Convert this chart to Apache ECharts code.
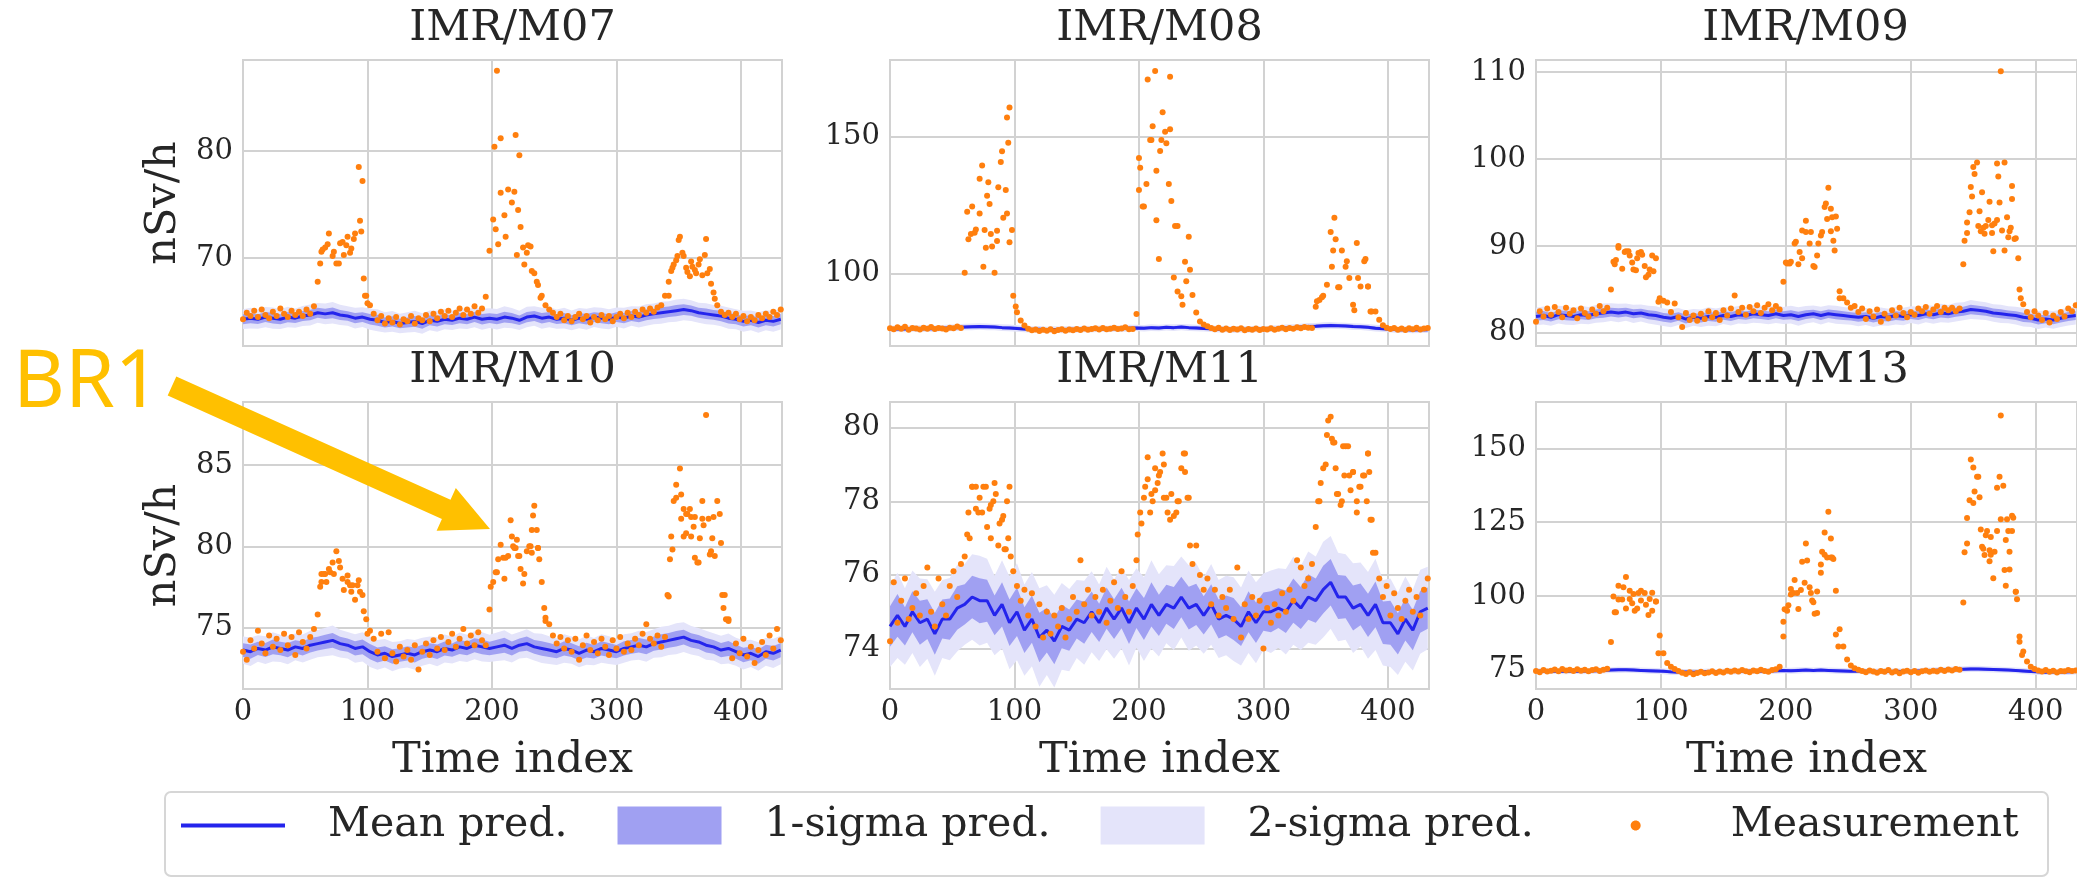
<!DOCTYPE html>
<html lang="en">
<head>
<meta charset="UTF-8">
<title>IMR monitors: prediction vs measurement</title>
<script src="https://cdn.jsdelivr.net/npm/echarts@6.0.0/dist/echarts.min.js"></script>
<style>
  html, body { margin: 0; padding: 0; background: #fff; }
  #main { width: 2077px; height: 878px; }
</style>
</head>
<body>
<div id="main"></div>
<script>
// ---- data ----
// measurements are sampled every 3 time indices, predictions every 6;
// the *Extra arrays hold further [time index, value] readings inside the peaks
var measStep = 3;
var predStep = 6;
var xMax = 433;

var panelTitles = ['IMR/M07', 'IMR/M08', 'IMR/M09', 'IMR/M10', 'IMR/M11', 'IMR/M13'];
var yRanges = [[61.8, 88.5], [73.7, 178], [78.5, 111.4], [71.2, 88.9], [72.9, 80.7], [68.5, 165.7]];
var yTicks = [[70, 80], [100, 150], [80, 90, 100, 110], [75, 80, 85], [74, 76, 78, 80], [75, 100, 125, 150]];
var xTicks = [0, 100, 200, 300, 400];

// IMR/M07
var m07Meas = [
  64.3,64.9,64.6,65.1,64.5,65.2,64.7,64.4,65.0,64.6,
  65.3,64.8,64.5,65.1,64.7,65.0,64.6,65.2,64.8,65.5,
  67.8,70.6,71.0,72.3,70.2,69.5,71.4,70.3,72.0,70.9,
  72.3,78.5,77.2,66.5,65.6,64.8,64.2,64.6,63.9,64.4,
  64.0,64.5,63.8,64.3,64.1,64.6,63.9,64.4,64.2,64.7,
  64.1,64.8,64.4,65.0,64.6,65.1,64.5,64.9,65.3,64.7,
  65.2,64.8,65.5,64.9,65.3,66.4,70.7,73.6,87.5,81.2,
  74.0,76.4,75.2,81.5,79.6,71.0,70.5,71.1,68.6,67.5,
  66.5,65.6,65.2,64.9,64.5,64.8,64.2,64.6,64.1,64.5,
  64.8,64.3,64.6,64.0,64.5,64.2,64.7,64.3,64.6,64.1,
  64.5,64.8,64.4,64.9,64.5,65.0,64.7,65.2,64.9,65.3,
  65.0,65.4,65.6,66.5,67.8,69.1,69.8,72.0,70.2,68.7,
  69.7,68.9,69.4,68.4,71.8,69.0,66.8,65.6,65.0,64.7,
  64.9,64.5,64.8,64.3,64.6,64.1,64.5,64.2,64.7,64.4,
  64.8,64.5,65.0,64.7,65.2
];
var m07Extra = [
  [62,69.5],[64,70.8],[68,71.3],[73,70.6],[77,69.5],[80,71.5],[83,71.2],[86,70.5],[89,71.8],
  [94,73.5],[95,72.5],[97,68.1],[98,66.5],[100,65.8],
  [202,80.4],[203,72.7],[205,71.3],[207,76.1],[211,72.0],[218,76.2],[220,70.3],[221,74.5],
  [223,72.9],[226,69.4],[229,71.2],[232,68.8],[236,67.8],[239,66.3],
  [342,66.5],[344,68.8],[346,69.4],[349,70.2],[350,71.7],[353,70.5],[356,69.1],[359,68.3],
  [361,69.2],[364,68.6],[367,69.9],[371,70.3],[373,68.6],[376,67.6],[379,66.2]
];
var m07Mean = [
  64.3,64.4,64.3,64.5,64.4,64.3,64.5,64.4,64.6,64.7,
  64.9,64.8,64.9,64.7,64.6,64.4,64.5,64.3,64.2,64.0,
  64.1,63.9,64.0,64.1,63.9,64.2,64.1,64.3,64.2,64.4,
  64.3,64.5,64.3,64.4,64.3,64.5,64.4,64.2,64.5,64.6,
  64.4,64.5,64.3,64.4,64.2,64.4,64.3,64.5,64.4,64.3,
  64.5,64.4,64.6,64.5,64.7,64.8,64.9,65.0,65.1,65.2,
  65.1,64.9,64.8,64.7,64.6,64.4,64.3,64.1,64.2,64.0,
  64.2,64.1,64.3
];
var m07Sigma = [
  0.46,0.48,0.45,0.47,0.50,0.46,0.48,0.45,0.47,0.49,
  0.46,0.48,0.50,0.47,0.45,0.48,0.46,0.49,0.51,0.47,
  0.48,0.45,0.47,0.50,0.48,0.46,0.49,0.47,0.45,0.48,
  0.46,0.47,0.49,0.46,0.48,0.50,0.47,0.45,0.48,0.46,
  0.49,0.47,0.45,0.48,0.46,0.47,0.49,0.46,0.48,0.47,
  0.45,0.48,0.46,0.49,0.50,0.48,0.51,0.49,0.52,0.50,
  0.48,0.47,0.49,0.46,0.48,0.50,0.47,0.49,0.46,0.48,
  0.47,0.49,0.48
];

// IMR/M08
var m08Meas = [
  80.2,79.8,80.5,80.0,80.7,79.6,80.3,80.1,79.7,80.4,
  80.0,80.6,79.9,80.3,80.1,79.7,80.4,80.2,80.8,80.3,
  100.4,112.6,124.6,116.2,134.7,102.6,128.5,114.5,100.4,131.6,
  144.7,130.6,160.7,92.0,86.0,83.0,81.2,80.0,79.4,79.7,
  79.2,79.6,79.3,79.8,79.1,79.5,79.8,79.3,79.7,79.4,
  79.9,79.5,80.1,79.6,79.9,80.2,79.7,80.3,79.8,80.0,
  80.4,79.9,80.1,80.5,79.8,79.9,85.4,138.7,124.6,170.9,
  148.8,174.0,105.4,158.9,147.6,171.9,98.7,117.5,91.8,104.4,
  113.5,92.3,85.9,82.6,81.5,80.9,80.3,79.8,80.4,79.6,
  80.1,79.5,80.0,79.7,80.2,79.4,79.9,79.6,80.1,79.5,
  79.9,79.7,80.2,79.6,80.0,80.4,79.8,80.3,80.0,80.5,
  80.2,80.6,80.4,80.3,88.0,90.5,92.0,96.0,115.3,120.5,
  95.1,108.5,102.6,98.5,88.7,111.3,95.4,104.6,95.4,86.3,
  86.3,83.3,81.3,80.4,79.9,80.3,79.6,80.1,79.5,80.2,
  79.8,80.4,79.7,80.1,80.3
];
var m08Extra = [
  [62,122.7],[65,114.5],[68,115.0],[72,122.0],[74,139.5],[76,116.0],[77,109.5],[79,133.4],
  [80,125.5],[82,110.0],[86,112.0],[86,115.7],[89,140.8],[91,120.5],[94,157.0],[94,122.0],
  [95,147.8],[96,111.5],[98,116.0],[101,88.1],
  [200,130.6],[200,142.3],[203,124.6],[206,132.8],[209,148.8],[211,153.8],[214,137.6],[214,119.6],
  [217,144.8],[218,148.8],[221,151.8],[224,132.8],[225,152.7],[226,126.6],[229,117.5],[231,93.6],
  [235,88.7],[238,97.3],[241,101.5],
  [343,90.0],[347,91.5],[355,102.6],[356,108.5],[358,112.6],[361,95.1],[367,104.6],[373,86.7],
  [376,98.5],[382,105.4],[384,95.4],[386,86.3]
];
var m08Mean = [
  79.9,80.0,79.9,80.1,80.0,80.1,80.0,80.2,80.3,80.4,
  80.6,80.7,80.8,80.7,80.6,80.4,80.3,80.1,79.9,79.7,
  79.8,79.6,79.7,79.6,79.8,79.7,79.9,79.8,80.0,79.9,
  80.1,80.0,80.2,80.3,80.2,80.4,80.3,80.5,80.4,80.6,
  80.4,80.3,80.1,80.0,79.8,79.9,79.7,79.8,79.7,79.9,
  79.8,80.0,80.1,80.3,80.4,80.6,80.8,80.9,81.1,81.2,
  81.1,81.0,80.8,80.7,80.5,80.2,80.0,79.8,79.6,79.7,
  79.5,79.7,79.6
];
var m08Sigma = [
  0.58,0.61,0.57,0.60,0.62,0.59,0.61,0.58,0.60,0.63,
  0.60,0.62,0.59,0.61,0.58,0.60,0.62,0.59,0.61,0.58,
  0.60,0.57,0.59,0.62,0.60,0.58,0.61,0.59,0.57,0.60,
  0.58,0.59,0.61,0.58,0.60,0.62,0.59,0.57,0.60,0.58,
  0.61,0.59,0.57,0.60,0.58,0.59,0.61,0.58,0.60,0.59,
  0.57,0.60,0.58,0.61,0.62,0.60,0.63,0.61,0.64,0.62,
  0.60,0.59,0.61,0.58,0.60,0.62,0.59,0.61,0.58,0.60,
  0.59,0.61,0.60
];

// IMR/M09
var m09Meas = [
  81.3,82.5,81.9,82.8,82.1,83.0,82.4,81.8,82.9,82.2,
  82.6,81.7,82.8,82.3,81.9,82.7,82.2,83.1,82.5,82.9,
  85.0,87.9,90.0,87.4,89.4,88.9,87.3,88.6,89.3,87.7,
  86.7,88.9,88.6,84.0,83.7,83.5,82.4,83.4,81.8,80.7,
  82.3,81.5,82.0,81.4,82.2,81.6,82.5,81.8,82.3,81.5,
  82.6,82.0,82.8,84.3,82.4,82.9,82.1,83.0,82.5,83.2,
  82.3,82.9,83.3,82.6,83.1,82.7,85.9,88.0,88.2,90.3,
  87.9,91.8,92.9,90.3,87.7,88.9,91.2,94.5,96.7,93.3,
  93.4,84.8,84.0,83.5,82.9,83.1,82.4,82.8,81.6,82.5,
  81.9,82.7,81.3,82.2,81.7,82.6,82.0,82.9,82.3,81.8,
  82.4,82.1,82.8,82.5,83.0,82.2,82.7,83.1,82.4,82.9,
  82.6,82.9,82.5,82.8,87.9,91.5,96.8,98.3,92.3,96.2,
  92.3,95.1,89.4,99.5,110.1,99.6,91.0,95.4,90.9,85.0,
  83.3,82.4,81.8,82.5,82.0,81.5,82.3,81.2,82.0,81.6,
  82.4,81.9,82.8,82.5,83.2
];
var m09Extra = [
  [62,88.2],[64,88.4],[66,89.8],[71,89.3],[74,89.4],[77,88.1],[80,87.2],[82,89.2],[85,89.0],
  [88,86.4],[91,87.3],[94,87.1],[98,83.6],
  [200,88.1],[203,88.0],[208,90.5],[211,89.3],[213,88.6],[216,91.6],[220,91.6],[223,87.6],
  [226,90.3],[229,91.6],[232,94.9],[233,93.1],[236,94.3],[236,91.7],[238,90.6],[239,89.5],
  [241,92.0],[243,84.0],
  [343,90.6],[345,92.7],[347,93.9],[349,95.7],[350,99.1],[353,99.6],[355,94.0],[356,91.7],
  [358,92.1],[359,91.4],[362,93.0],[365,92.4],[365,91.5],[367,92.6],[369,93.0],[370,98.0],
  [371,95.0],[373,91.8],[375,89.5],[377,93.3],[379,91.7],[380,92.1],[381,96.9],[383,90.8],
  [386,88.6],[388,84.0]
];
var m09Mean = [
  81.9,82.0,81.8,82.1,82.0,81.9,82.1,82.0,82.2,82.3,
  82.4,82.3,82.4,82.2,82.3,82.1,82.0,81.8,81.7,81.9,
  81.6,81.8,81.7,81.9,81.8,82.0,81.9,82.1,82.0,82.2,
  82.1,82.0,82.2,82.0,82.1,81.9,82.1,82.2,82.0,82.2,
  82.1,82.0,81.9,81.8,81.9,81.7,81.9,81.8,82.0,81.9,
  82.1,82.0,82.2,82.1,82.3,82.2,82.4,82.5,82.7,82.6,
  82.5,82.3,82.2,82.1,82.0,81.8,81.7,81.5,81.6,81.5,
  81.7,81.9,82.0
];
var m09Sigma = [
  0.50,0.52,0.48,0.51,0.53,0.49,0.52,0.50,0.51,0.54,
  0.51,0.53,0.50,0.52,0.49,0.51,0.53,0.50,0.52,0.49,
  0.51,0.48,0.50,0.53,0.51,0.49,0.52,0.50,0.48,0.51,
  0.49,0.50,0.52,0.49,0.51,0.53,0.50,0.48,0.51,0.49,
  0.52,0.50,0.48,0.51,0.49,0.50,0.52,0.49,0.51,0.50,
  0.48,0.51,0.49,0.52,0.53,0.51,0.54,0.52,0.55,0.53,
  0.51,0.50,0.52,0.49,0.51,0.53,0.50,0.52,0.49,0.51,
  0.50,0.52,0.51
];

// IMR/M10
var m10Meas = [
  73.5,73.0,74.2,73.7,74.8,74.0,73.4,74.5,73.8,74.3,
  73.6,74.6,73.9,74.4,73.3,74.7,74.1,73.7,74.4,74.9,
  75.8,77.8,78.3,78.6,79.0,79.7,78.7,77.3,78.2,77.2,
  76.7,77.9,77.0,75.5,74.8,74.3,73.5,74.6,73.1,74.7,
  73.4,72.9,73.8,73.2,73.6,73.0,73.9,72.4,73.5,74.0,
  73.3,74.2,73.7,74.4,73.6,74.1,74.6,73.8,74.3,74.9,
  74.0,74.5,73.9,74.7,74.2,73.9,76.1,77.8,78.4,80.1,
  78.0,79.4,80.6,79.9,79.4,77.7,79.7,80.0,82.5,79.9,
  77.8,75.4,75.2,74.5,74.0,74.4,73.7,74.2,73.5,74.3,
  73.0,73.9,74.5,73.6,74.1,73.4,74.3,73.8,73.3,74.2,
  73.7,74.4,73.5,74.0,73.6,74.3,73.9,74.6,75.2,74.3,
  74.0,74.5,73.8,74.4,76.9,79.8,83.8,84.8,80.6,82.0,
  80.6,81.8,79.0,82.8,88.1,79.5,81.8,82.8,80.2,77.0,
  75.5,73.1,74.0,73.4,74.3,73.2,73.8,72.8,73.6,74.1,
  73.3,74.5,73.7,74.9,74.2
];
var m10Extra = [
  [62,77.5],[63,78.3],[65,78.3],[67,77.8],[70,78.4],[73,78.3],[77,79.1],[80,78.0],[84,77.8],
  [86,77.6],[88,77.6],[92,77.6],[94,77.2],[97,76.0],[100,74.6],
  [199,77.5],[203,78.4],[205,79.2],[209,79.3],[211,79.3],[215,81.6],[217,80.0],[218,79.9],
  [220,80.4],[221,79.4],[223,78.6],[226,78.3],[230,80.0],[232,81.0],[232,79.6],[233,81.9],
  [236,81.0],[237,79.9],[238,79.2],[242,76.2],[243,75.6],
  [341,77.0],[343,79.2],[344,80.6],[346,82.8],[348,83.0],[352,83.2],[352,81.7],[354,82.3],
  [356,82.0],[356,80.8],[359,82.3],[360,81.8],[362,81.2],[363,79.3],[365,79.0],[367,80.5],
  [369,81.7],[370,81.3],[374,81.7],[376,79.7],[377,80.5],[379,79.4],[383,82.0],[385,77.0],
  [386,76.2],[388,75.5],[390,75.4]
];
var m10Mean = [
  73.6,73.5,73.7,73.6,73.8,73.7,73.6,73.8,73.7,73.9,
  74.0,74.1,74.2,74.0,73.9,73.7,73.8,73.5,73.3,73.4,
  73.2,73.3,73.4,73.3,73.5,73.6,73.5,73.7,73.6,73.8,
  73.7,73.9,73.8,73.7,73.8,73.9,73.7,73.9,74.0,73.8,
  73.7,73.6,73.5,73.7,73.6,73.4,73.6,73.5,73.7,73.6,
  73.5,73.7,73.8,73.9,73.8,74.0,74.1,74.2,74.3,74.4,
  74.2,74.1,73.9,73.8,73.6,73.7,73.5,73.3,73.4,73.2,
  73.5,73.4,73.6
];
var m10Sigma = [
  0.42,0.44,0.41,0.43,0.45,0.42,0.44,0.41,0.43,0.45,
  0.42,0.44,0.46,0.43,0.41,0.44,0.45,0.47,0.46,0.44,
  0.45,0.42,0.44,0.46,0.43,0.42,0.45,0.43,0.41,0.44,
  0.42,0.43,0.45,0.42,0.44,0.46,0.43,0.41,0.44,0.42,
  0.45,0.43,0.41,0.44,0.42,0.43,0.45,0.42,0.44,0.43,
  0.41,0.44,0.42,0.45,0.46,0.44,0.47,0.45,0.48,0.46,
  0.44,0.43,0.45,0.42,0.44,0.46,0.43,0.45,0.42,0.44,
  0.43,0.45,0.44
];

// IMR/M11
var m11Meas = [
  74.2,75.8,74.7,75.3,75.9,74.8,75.1,75.5,74.9,75.7,
  76.2,75.0,74.6,75.9,75.2,74.9,75.7,76.1,75.4,76.3,
  76.5,77.7,78.4,77.8,78.1,78.4,77.3,77.9,78.5,76.8,
  77.5,76.7,78.4,76.1,75.7,75.3,75.6,74.9,75.5,74.6,
  75.2,74.3,75.0,74.4,74.9,74.6,75.1,74.3,74.8,75.4,
  75.0,76.4,75.2,75.6,74.9,75.4,75.0,75.6,74.7,75.3,
  75.8,75.1,76.1,75.4,75.0,75.7,76.4,77.7,78.1,79.2,
  78.2,78.9,78.7,79.3,78.1,77.5,77.6,78.0,78.9,79.3,
  78.1,76.3,76.8,76.0,75.6,75.9,75.2,75.6,74.9,75.4,
  75.1,75.6,74.8,76.2,74.3,75.2,74.8,75.4,74.9,75.3,
  74.0,75.1,74.7,75.2,74.9,75.5,75.0,75.6,75.3,76.4,
  76.2,75.7,75.9,76.3,77.3,78.0,78.9,79.8,80.3,79.6,
  78.2,78.0,79.5,78.7,78.8,77.7,78.4,78.7,79.3,77.5,
  76.6,75.9,75.4,75.7,74.9,75.5,75.1,74.8,75.3,75.6,
  75.0,75.4,74.9,75.6,75.9
];
var m11Extra = [
  [62,77.1],[64,77.0],[66,78.4],[69,78.4],[71,77.7],[74,77.7],[77,78.4],[80,77.8],[81,77.0],
  [83,78.0],[85,78.2],[88,77.4],[91,77.6],[92,76.7],[94,78.0],[95,77.0],[97,76.5],
  [199,77.1],[202,77.4],[205,78.4],[207,78.6],[209,77.7],[211,78.0],[213,78.3],[215,78.5],
  [217,78.8],[220,79.0],[220,78.1],[223,77.7],[226,78.2],[230,77.7],[232,78.0],[236,79.3],
  [237,78.8],[239,78.1],[241,76.8],
  [344,78.0],[346,78.5],[350,79.0],[352,80.2],[355,79.7],[356,79.6],[358,78.9],[359,78.2],
  [362,77.9],[364,79.5],[365,78.7],[368,79.5],[370,78.3],[372,78.8],[375,78.0],[377,78.4],
  [380,78.7],[383,78.0],[384,79.3],[385,78.8],[386,77.5],[388,76.6]
];
var m11Mean = [
  74.6,74.9,74.6,75.0,74.7,74.8,74.4,74.8,74.8,75.1,
  75.2,75.4,75.3,75.3,74.9,75.2,74.7,75.0,74.5,74.8,
  74.3,74.5,74.2,74.6,74.5,74.8,74.7,75.0,74.7,75.1,
  74.8,75.1,74.7,75.1,74.8,75.2,74.9,75.2,75.1,75.4,
  75.1,75.2,74.9,75.2,74.8,74.9,74.8,74.6,75.0,74.7,
  75.0,75.0,75.1,75.0,75.3,75.1,75.4,75.3,75.6,75.8,
  75.4,75.4,75.1,75.2,74.9,75.2,74.7,74.7,74.4,74.8,
  74.5,75.0,75.1
];
var m11Sigma = [
  0.55,0.58,0.52,0.56,0.60,0.54,0.57,0.53,0.56,0.59,
  0.55,0.58,0.61,0.57,0.54,0.60,0.63,0.66,0.62,0.64,
  0.67,0.61,0.63,0.59,0.56,0.53,0.57,0.55,0.52,0.56,
  0.54,0.55,0.58,0.54,0.57,0.60,0.56,0.53,0.57,0.55,
  0.58,0.56,0.52,0.55,0.53,0.54,0.57,0.53,0.56,0.55,
  0.52,0.56,0.54,0.58,0.60,0.57,0.62,0.60,0.65,0.63,
  0.60,0.58,0.61,0.57,0.59,0.62,0.58,0.60,0.56,0.58,
  0.55,0.57,0.56
];

// IMR/M13
var m13Meas = [
  74.6,74.2,74.9,74.4,74.7,75.1,74.5,75.3,74.8,75.0,
  74.6,75.2,74.7,75.0,74.5,74.9,75.2,74.6,75.0,75.4,
  84.4,94.5,103.5,98.8,106.4,101.8,100.7,95.8,101.8,101.0,
  93.6,101.1,98.1,86.6,80.6,77.3,76.0,75.3,74.6,74.0,
  73.6,74.2,73.5,73.9,74.3,73.8,74.1,74.5,73.9,74.4,
  74.1,74.7,74.3,74.8,74.4,74.9,74.5,74.2,74.8,74.5,
  75.0,74.6,74.3,74.9,75.2,76.0,86.3,95.0,102.4,105.4,
  95.6,111.6,117.8,103.0,97.9,94.2,107.9,121.5,128.5,113.0,
  101.8,88.7,82.9,78.5,76.5,75.5,75.0,74.6,74.2,74.8,
  74.4,74.0,74.6,74.3,74.9,74.1,74.5,73.8,74.4,74.7,
  74.2,74.6,74.0,74.5,74.8,74.3,74.7,74.4,75.0,74.6,
  75.1,74.8,75.3,75.0,97.8,117.8,146.2,135.4,140.4,116.7,
  120.6,111.8,106.0,136.7,161.1,108.8,122.0,127.2,101.4,86.3,
  81.2,77.8,76.0,75.3,74.8,74.4,74.9,74.3,74.7,74.1,
  74.6,74.5,74.9,74.6,74.8
];
var m13Extra = [
  [62,99.8],[64,94.5],[66,98.8],[70,103.0],[72,95.8],[75,99.0],[77,97.5],[79,95.0],[82,101.0],
  [84,98.5],[88,97.0],[91,99.0],[93,95.0],[96,98.1],[98,80.6],
  [198,91.3],[199,95.5],[202,96.9],[204,100.5],[206,101.0],[209,101.0],[212,102.0],[215,104.5],
  [217,112.0],[220,101.0],[221,98.5],[223,94.0],[225,101.5],[228,110.7],[229,115.0],[231,114.0],
  [233,113.0],[236,119.5],[236,113.0],[238,112.5],[240,87.0],[242,82.9],
  [343,114.8],[345,126.4],[347,132.4],[350,131.5],[350,143.5],[353,140.4],[355,133.4],[356,122.5],
  [358,116.0],[359,113.9],[361,122.0],[363,115.5],[364,120.0],[364,114.0],[367,115.0],[369,122.0],
  [371,140.4],[372,126.0],[374,137.3],[376,103.5],[376,119.0],[377,126.0],[379,115.0],[379,109.0],
  [381,122.0],[382,126.5],[384,101.4],[385,98.9],[387,84.5],[389,80.0]
];
var m13Mean = [
  74.5,74.6,74.5,74.6,74.5,74.6,74.5,74.6,74.7,74.8,
  74.9,75.0,75.0,74.9,74.8,74.7,74.6,74.5,74.3,74.2,
  74.3,74.2,74.3,74.4,74.3,74.4,74.5,74.4,74.5,74.6,
  74.5,74.6,74.7,74.8,74.7,74.8,74.9,74.8,74.9,74.8,
  74.7,74.6,74.5,74.6,74.5,74.4,74.5,74.4,74.5,74.4,
  74.5,74.6,74.7,74.8,74.9,75.0,75.1,75.2,75.3,75.3,
  75.2,75.1,75.0,74.9,74.8,74.6,74.4,74.3,74.2,74.3,
  74.2,74.3,74.4
];
var m13Sigma = [
  0.48,0.51,0.47,0.50,0.52,0.48,0.51,0.49,0.50,0.53,
  0.50,0.52,0.49,0.51,0.48,0.50,0.52,0.49,0.51,0.48,
  0.50,0.47,0.49,0.52,0.50,0.48,0.51,0.49,0.47,0.50,
  0.48,0.49,0.51,0.48,0.50,0.52,0.49,0.47,0.50,0.48,
  0.51,0.49,0.47,0.50,0.48,0.49,0.51,0.48,0.50,0.49,
  0.47,0.50,0.48,0.51,0.52,0.50,0.53,0.51,0.54,0.52,
  0.50,0.49,0.51,0.48,0.50,0.52,0.49,0.51,0.48,0.50,
  0.49,0.51,0.50
];

var panels = [
  { meas: m07Meas, extra: m07Extra, mean: m07Mean, sigma: m07Sigma },
  { meas: m08Meas, extra: m08Extra, mean: m08Mean, sigma: m08Sigma },
  { meas: m09Meas, extra: m09Extra, mean: m09Mean, sigma: m09Sigma },
  { meas: m10Meas, extra: m10Extra, mean: m10Mean, sigma: m10Sigma },
  { meas: m11Meas, extra: m11Extra, mean: m11Mean, sigma: m11Sigma },
  { meas: m13Meas, extra: m13Extra, mean: m13Mean, sigma: m13Sigma }
];

// ---- look ----
var SERIF = "'DejaVu Serif', serif";
var TEXT = '#262626';
var GRIDC = '#D2D2D2';
var BLUE = '#2424EC';
var BAND1 = '#A0A0F2';
var BAND2 = '#E4E4FA';
var ORANGE = '#FF7F0E';
var GOLD = '#FFC000';

var gridBoxes = [
  { left: 243, top: 60, width: 539, height: 286 },
  { left: 890, top: 60, width: 539, height: 286 },
  { left: 1536, top: 60, width: 541, height: 286 },
  { left: 243, top: 402, width: 539, height: 287 },
  { left: 890, top: 402, width: 539, height: 287 },
  { left: 1536, top: 402, width: 541, height: 287 }
];

var myChart = echarts.init(document.getElementById('main'), null, { renderer: 'canvas' });

var grids = [], xAxes = [], yAxes = [], titles = [], series = [];

// band between mean - mult*sigma and mean + mult*sigma, drawn as one polygon through the axes
function bandSeries(k, p, mult, name, color) {
  var rows = p.mean.map(function (m, i) {
    return [i * predStep, m - mult * p.sigma[i], m + mult * p.sigma[i]];
  });
  return {
    type: 'custom', name: name, xAxisIndex: k, yAxisIndex: k,
    silent: true, animation: false, clip: true, z: 2,
    itemStyle: { color: color },
    encode: { x: 0, y: [1, 2] },
    data: rows,
    renderItem: function (params, api) {
      if (params.dataIndex !== 0) return null;
      var upper = [], lower = [];
      for (var i = 0; i < rows.length; i++) {
        upper.push(api.coord([rows[i][0], rows[i][2]]));
        lower.push(api.coord([rows[i][0], rows[i][1]]));
      }
      return {
        type: 'polygon',
        shape: { points: upper.concat(lower.reverse()) },
        style: { fill: color }
      };
    }
  };
}

panels.forEach(function (p, k) {
  var box = gridBoxes[k];
  var bottomRow = k >= 3;
  var leftCol = k % 3 === 0;

  grids.push({
    left: box.left, top: box.top, width: box.width, height: box.height,
    show: true, backgroundColor: '#fff', borderColor: GRIDC, borderWidth: 2,
    containLabel: false, outerBoundsMode: 'none'
  });

  xAxes.push({
    type: 'value', gridIndex: k, min: 0, max: xMax,
    axisLine: { show: false },
    axisTick: { show: false, customValues: xTicks },
    axisLabel: {
      show: bottomRow, customValues: xTicks,
      fontFamily: SERIF, fontSize: 29, color: TEXT, margin: 9
    },
    splitLine: { show: true, lineStyle: { color: GRIDC, width: 2 } },
    name: bottomRow ? 'Time index' : '',
    nameLocation: 'middle', nameGap: 50,
    nameTextStyle: { fontFamily: SERIF, fontSize: 43, color: TEXT }
  });

  yAxes.push({
    type: 'value', gridIndex: k, min: yRanges[k][0], max: yRanges[k][1],
    axisLine: { show: false },
    axisTick: { show: false, customValues: yTicks[k] },
    axisLabel: {
      customValues: yTicks[k],
      fontFamily: SERIF, fontSize: 29, color: TEXT, margin: 10
    },
    splitLine: { show: true, lineStyle: { color: GRIDC, width: 2 } },
    name: leftCol ? 'nSv/h' : '',
    nameLocation: 'middle', nameGap: 58,
    nameTextStyle: { fontFamily: SERIF, fontSize: 43, color: TEXT }
  });

  titles.push({
    text: panelTitles[k],
    left: box.left + box.width / 2 - (k % 3 === 2 ? 1 : 0),
    top: bottomRow ? 346 : 4,
    textAlign: 'center',
    padding: 0,
    textStyle: { fontFamily: SERIF, fontSize: 43, fontWeight: 'normal', color: TEXT, lineHeight: 50 }
  });

  series.push(bandSeries(k, p, 2, '2-sigma pred.', BAND2));
  series.push(bandSeries(k, p, 1, '1-sigma pred.', BAND1));

  series.push({
    type: 'line', name: 'Mean pred.', xAxisIndex: k, yAxisIndex: k,
    symbol: 'none', showSymbol: false, silent: true, animation: false, z: 3,
    data: p.mean.map(function (v, i) { return [i * predStep, v]; }),
    lineStyle: { color: BLUE, width: 3 }, itemStyle: { color: BLUE }
  });

  var measPairs = p.meas.map(function (v, i) { return [i * measStep, v]; }).concat(p.extra);
  series.push({
    type: 'scatter', name: 'Measurement', xAxisIndex: k, yAxisIndex: k,
    data: measPairs,
    symbolSize: 6, silent: true, animation: false, z: 4,
    itemStyle: { color: ORANGE, opacity: 1 }
  });
});

// BR1 annotation arrow
var arrowTail = [172, 386], arrowTip = [490, 529];
var shaftHalf = 10.5, headHalf = 23.4, headLen = 48;
var adx = arrowTip[0] - arrowTail[0], ady = arrowTip[1] - arrowTail[1];
var alen = Math.sqrt(adx * adx + ady * ady);
var ux = adx / alen, uy = ady / alen, px = -uy, py = ux;
var bx = arrowTip[0] - ux * headLen, by = arrowTip[1] - uy * headLen;
var arrowPts = [
  [arrowTail[0] + px * shaftHalf, arrowTail[1] + py * shaftHalf],
  [bx + px * shaftHalf, by + py * shaftHalf],
  [bx + px * headHalf, by + py * headHalf],
  arrowTip,
  [bx - px * headHalf, by - py * headHalf],
  [bx - px * shaftHalf, by - py * shaftHalf],
  [arrowTail[0] - px * shaftHalf, arrowTail[1] - py * shaftHalf]
];

// legend icons: path bounding box spans the whole 104x38 item so the mark keeps its size
var lineIcon = 'path://M0,0L0.01,0L0,0.01Z M0,17L104,17L104,21L0,21Z M104,38L103.99,38L104,37.99Z';
var dotIcon = 'path://M0,0L0.01,0L0,0.01Z M47,19C47,16.24 49.24,14 52,14C54.76,14 57,16.24 57,19C57,21.76 54.76,24 52,24C49.24,24 47,21.76 47,19Z M104,38L103.99,38L104,37.99Z';

var option = {
  animation: false,
  backgroundColor: '#fff',
  textStyle: { fontFamily: SERIF },
  title: titles,
  grid: grids,
  xAxis: xAxes,
  yAxis: yAxes,
  legend: {
    left: 181, top: 805, width: 1890, padding: 0, itemGap: 50,
    itemWidth: 104, itemHeight: 38, selectedMode: false,
    textStyle: { fontFamily: SERIF, fontSize: 41, color: TEXT, padding: [0, 0, 0, 38] },
    data: [
      { name: 'Mean pred.', icon: lineIcon, itemStyle: { color: BLUE } },
      { name: '1-sigma pred.', icon: 'rect', itemStyle: { color: BAND1 } },
      { name: '2-sigma pred.', icon: 'rect', itemStyle: { color: BAND2 } },
      { name: 'Measurement', icon: dotIcon, itemStyle: { color: ORANGE } }
    ]
  },
  graphic: [
    {
      type: 'rect', z: 0, silent: true,
      shape: { x: 165, y: 792, width: 1883, height: 84, r: 6 },
      style: { fill: '#fff', stroke: '#D6D6D6', lineWidth: 2 }
    },
    {
      type: 'text', z: 100, silent: true, x: 13, y: 384,
      style: {
        text: 'BR1', fill: GOLD, verticalAlign: 'middle',
        font: "80px 'Liberation Sans Narrow', 'Noto Sans', sans-serif"
      }
    },
    {
      type: 'polygon', z: 100, silent: true,
      shape: { points: arrowPts },
      style: { fill: GOLD }
    }
  ],
  series: series
};

myChart.setOption(option);
</script>
</body>
</html>
